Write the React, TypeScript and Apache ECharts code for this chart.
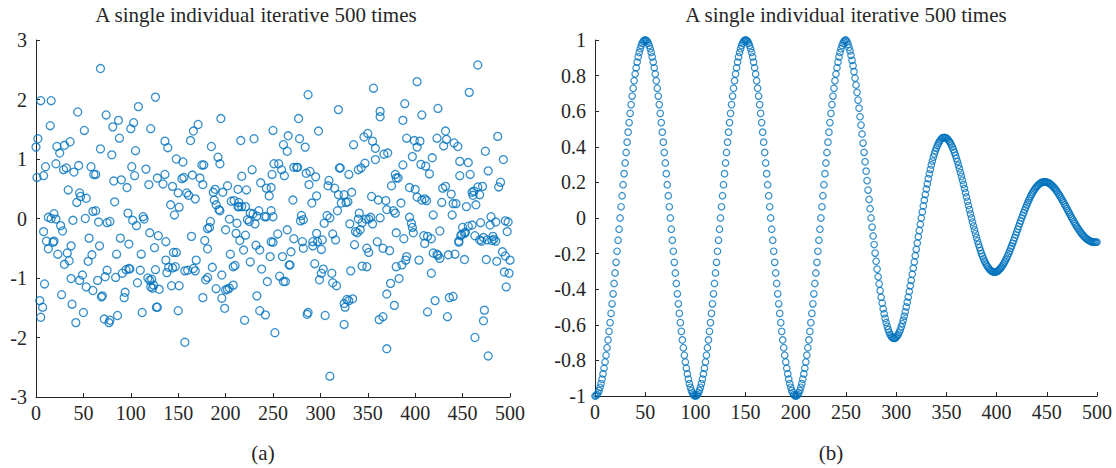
import React, { useEffect, useRef } from "react";
import * as echarts from "echarts";

const titleText = "A single individual iterative 500 times";
const xTicks = [0, 50, 100, 150, 200, 250, 300, 350, 400, 450, 500];

// Panel (a): iteration index and value
const scatterA: [number, number][] = [
  [0,1.20],[2,1.34],[1,0.69],[5,1.98],[8,0.72],[4,-1.38],[7,-1.49],[5,-1.66],[9,-1.10],[10,0.87],[8,-0.22],[11,-0.38],[13,0.02],[13,-0.51],[15,1.56],[16,1.98],[16,0],[18,-0.40],[19,-0.38],[19,0.08],[21,-0.01],[22,1.21],[21,0.92],[25,1.10],[23,-0.60],[26,-0.12],[28,-0.21],[27,-1.28],[29,0.82],[30,1.23],[30,-0.77],[32,0.85],[33,-0.58],[35,-0.71],[36,1.29],[34,0.48],[37,-0.46],[38,-1.44],[37,-1.01],[39,-0.03],[40,0.78],[42,-1.75],[43,0.27],[44,1.79],[45,0.89],[46,0.43],[46,-1.04],[47,0.37],[49,-0.95],[50,-1.58],[51,1.48],[52,0],[53,0.34],[53,-1.15],[56,-0.33],[55,-0.72],[58,0.87],[59,-0.61],[60,-1.21],[61,0.74],[63,0.74],[60,0.12],[63,0.13],[65,-1.04],[66,-0.06],[67,-0.46],[68,2.52],[68,1.17],[69,-1.32],[70,-1.30],[72,-1.69],[73,-0.98],[74,1.74],[75,-0.87],[75,-0.07],[78,-0.05],[77,-1.75],[78,-1.71],[80,1.07],[81,1.54],[82,0.63],[83,0.28],[84,-0.99],[85,-0.60],[86,-1.63],[87,1.65],[88,1.35],[89,-0.33],[90,0.65],[91,-0.92],[93,-1.33],[94,-1.24],[96,0.52],[95,-0.86],[98,-0.84],[99,-0.85],[97,0.09],[98,-0.43],[100,1.51],[101,0.87],[103,1.61],[102,-0.03],[104,0.72],[105,1.14],[106,-0.12],[107,-1.08],[108,1.88],[110,-0.87],[111,-0.60],[113,0.03],[114,-0.01],[112,-1.58],[116,0.83],[119,0.57],[120,-0.24],[118,-1.00],[120,-1.04],[122,-1.02],[124,-1.12],[121,-1.15],[123,-1.17],[121,1.51],[125,-0.49],[126,2.04],[126,-0.86],[127,-1.49],
  [128,0.68],[136,0.74],[134,0.58],[136,1.30],[139,1.19],[129,-0.29],[137,-0.39],[137,-0.70],[138,-0.91],[140,-0.82],[144,-0.83],[147,-0.81],[128,-1.49],[130,-1.19],[144,0.54],[142,0.23],[146,0.06],[148,1.00],[155,0.95],[145,-0.57],[148,-0.57],[143,-1.13],[151,-1.13],[150,-1.55],[157,-2.08],[150,0.43],[151,0.19],[154,0.67],[156,0.69],[159,0.43],[161,0.39],[163,1.31],[166,1.47],[171,1.58],[165,0.73],[168,0.33],[164,-0.30],[157,-0.88],[160,-0.87],[166,-0.84],[169,-0.70],[168,-0.88],[173,0.68],[176,0.57],[175,0.90],[177,0.90],[176,-1.33],[178,-0.37],[181,-0.51],[179,-1.03],[181,-0.99],[181,-0.17],[183,-0.15],[184,-0.05],[185,1.21],[186,-0.82],[187,0.44],[189,0.49],[188,0.31],[190,0.23],[193,0.15],[194,0.13],[192,1.03],[194,0.92],[190,-1.18],[195,1.68],[196,-0.95],[196,-1.34],[199,-1.51],[197,0.44],[202,0.55],[200,-0.19],[204,-0.01],[206,0.29],[205,-0.60],[208,-0.81],[210,-0.79],[200,-1.20],[202,-1.19],[204,-1.17],[208,-1.12],[211,-0.25],[212,-0.08],[213,0.49],[214,0.27],[214,0.20],[215,-0.37],[216,1.31],[217,0.71],[222,0.48],[219,-0.53],[220,-1.71],[221,-0.28],[226,-0.73],[228,0.82],[230,1.34],[232,-0.45],[233,-1.30],[236,-0.53],[238,-0.85],[236,-1.55],[242,-1.62],[244,-1.06],[247,-0.64],[248,-0.39],[250,-0.40],[250,1.48],[251,0.92],[249,0.74],[250,0.03],[252,-1.92],
  [209,0.30],[213,0.20],[217,0.20],[221,0.20],[223,-0.02],[225,-0.05],[226,0.09],[229,0.08],[231,-0.09],[233,0.04],[235,0.13],[237,0.60],[241,0.03],[243,0.03],[246,0.38],[243,0.51],[248,0.52],[248,0.13],
  [256,0.92],[259,0.82],[262,0.72],[255,-0.26],[260,-0.64],[261,1.24],[266,1.39],[265,1.13],[257,-0.97],[261,-1.06],[263,-1.06],[265,-0.19],[267,-0.78],[268,-0.78],[269,-0.56],[271,0.31],[272,-0.34],[272,0.86],[275,0.86],[276,0.86],[277,1.68],[278,1.34],[284,1.20],[279,-0.04],[280,0.05],[282,-0.02],[281,-0.39],[282,-0.50],[285,0.76],[289,0.79],[288,0.57],[295,0.70],[287,2.08],[286,-1.61],[287,-1.58],[291,0.26],[296,0.38],[292,-0.39],[292,-0.46],[296,-0.25],[297,-0.39],[294,-0.76],[298,1.47],[299,-1.03],[301,-0.92],[303,-0.85],[301,-0.52],[302,-0.36],[304,-0.08],[305,-1.63],[307,0.05],[310,0.01],[308,0.55],[309,0.64],[315,0.51],[310,-2.65],[312,-0.92],[313,-1.08],[317,-1.13],[313,-0.26],[316,-0.36],[318,0.13],[319,1.83],[319,0.40],[322,0.26],[325,0.40],[327,0.27],[329,0.28],[333,0.44],[320,0.85],[321,0.85],[325,-1.43],[328,-1.36],[330,-1.38],[334,-1.35],[326,-1.49],[325,-1.78],[330,0.74],[331,-0.09],[332,-0.88],[335,1.24],[336,-0.44],[337,-0.22],[339,-0.24],[342,-0.19],[340,0.82],[343,0.85],[347,0.93],[341,0.09],[340,-0.01],[344,-0.07],[348,-0.01],[351,-0.01],[353,0.02],[355,-0.09],[363,0.01],[344,-0.80],[349,-0.81],[349,-0.50],[351,-0.57],[346,1.37],[350,1.43],[355,1.30],[358,1.18],[356,2.19],[354,0.37],[360,-0.39],[358,0.99],[361,0.31],[363,1.80],[363,1.71],[362,-1.70],[366,-1.65],[367,1.08],[371,1.10],[369,0.30],[370,0.15],[377,0.13],[366,-0.50],[373,-0.54],[370,-1.27],[374,-1.09],[370,-2.19],[375,0.55],[378,-1.46],[379,0.74],[380,0.68],[380,-0.24],[380,-0.81],
  [382,0.68],[379,0.09],[385,0.26],[383,-1.01],[387,0.90],[389,1.93],[387,1.65],[386,-0.78],[390,-0.70],[391,-0.64],[388,-0.34],[391,1.35],[394,0.52],[394,0.02],[396,-0.08],[397,-0.15],[398,-0.24],[397,1.04],[399,1.31],[402,1.20],[405,1.30],[400,0.49],[402,0.36],[407,0.31],[410,0.33],[412,0.30],[402,2.30],[404,-0.70],[406,0.91],[411,0.88],[415,0.75],[407,1.74],[409,-0.29],[410,-0.42],[413,-0.30],[417,-0.34],[413,-1.57],[417,-0.92],[418,1.02],[419,0.06],[421,-1.38],[419,-0.58],[423,-0.60],[426,-0.67],[424,-0.62],[423,1.35],[424,1.85],[426,-0.21],[428,0.27],[429,0.51],[432,0.54],[430,1.22],[432,1.47],[433,1.33],[434,-1.65],[435,-0.61],[442,-0.60],[436,-1.33],[440,-1.31],[438,0.41],[440,0.25],[443,0.25],[439,0.06],[441,1.27],[445,1.21],[446,-0.38],[448,-0.29],[447,0.96],[447,0.72],[452,-0.69],[450,-0.15],[453,-0.23],[454,0.20],[456,0.94],[458,0.74],[460,0.44],[461,0.39],[462,0.46],[464,0.23],[466,0.53],[468,0.40],[471,0.54],[457,2.12],[460,-0.11],[463,-0.29],[463,-2.00],[466,2.58],[469,-0.07],[468,-0.36],[470,-0.38],[473,-1.54],[472,-1.72],[474,1.13],[475,-0.69],[477,0.80],[477,-2.31],[480,0.03],[479,-0.11],[482,-0.30],[483,-0.35],[485,-0.38],[485,-0.06],[486,-0.72],[487,1.38],[488,0.53],[490,0.61],[492,-0.56],[495,-0.63],[499,-0.92],[494,-0.90],[493,0.99],[495,-0.04],[498,-0.06],[496,-1.15],[497,-0.22],[500,-0.70],
  [446,-0.40],[449,-0.27],[452,-0.25],[456,-0.13],[472,-0.32],[476,-0.36],[481,-0.37]
];

// Panel (b): value at each iteration, x = 0..500
const curveB_0_50 = [-1,-0.998,-0.992,-0.982,-0.969,-0.951,-0.930,-0.905,-0.876,-0.844,-0.809,-0.771,-0.729,-0.685,-0.637,-0.588,-0.536,-0.482,-0.426,-0.368,-0.309,-0.249,-0.187,-0.125,-0.063,0,0.063,0.125,0.187,0.249,0.309,0.368,0.426,0.482,0.536,0.588,0.637,0.685,0.729,0.771,0.809,0.844,0.876,0.905,0.930,0.951,0.969,0.982,0.992,0.998,1];
const curveB_51_100 = [0.998,0.992,0.982,0.969,0.951,0.930,0.905,0.876,0.844,0.809,0.771,0.729,0.685,0.637,0.588,0.536,0.482,0.426,0.368,0.309,0.249,0.187,0.125,0.063,0,-0.063,-0.125,-0.187,-0.249,-0.309,-0.368,-0.426,-0.482,-0.536,-0.588,-0.637,-0.685,-0.729,-0.771,-0.809,-0.844,-0.876,-0.905,-0.930,-0.951,-0.969,-0.982,-0.992,-0.998,-1];
const curveB_101_150 = [-0.998,-0.992,-0.982,-0.969,-0.951,-0.930,-0.905,-0.876,-0.844,-0.809,-0.771,-0.729,-0.685,-0.637,-0.588,-0.536,-0.482,-0.426,-0.368,-0.309,-0.249,-0.187,-0.125,-0.063,0,0.063,0.125,0.187,0.249,0.309,0.368,0.426,0.482,0.536,0.588,0.637,0.685,0.729,0.771,0.809,0.844,0.876,0.905,0.930,0.951,0.969,0.982,0.992,0.998,1];
const curveB_151_200 = [0.998,0.992,0.982,0.969,0.951,0.930,0.905,0.876,0.844,0.809,0.771,0.729,0.685,0.637,0.588,0.536,0.482,0.426,0.368,0.309,0.249,0.187,0.125,0.063,0,-0.063,-0.125,-0.187,-0.249,-0.309,-0.368,-0.426,-0.482,-0.536,-0.588,-0.637,-0.685,-0.729,-0.771,-0.809,-0.844,-0.876,-0.905,-0.930,-0.951,-0.969,-0.982,-0.992,-0.998,-1];
const curveB_201_250 = [-0.998,-0.992,-0.982,-0.969,-0.951,-0.930,-0.905,-0.876,-0.844,-0.809,-0.771,-0.729,-0.685,-0.637,-0.588,-0.536,-0.482,-0.426,-0.368,-0.309,-0.249,-0.187,-0.125,-0.063,0,0.063,0.125,0.187,0.249,0.309,0.368,0.426,0.482,0.536,0.588,0.637,0.685,0.729,0.771,0.809,0.844,0.876,0.905,0.930,0.951,0.969,0.982,0.992,0.998,1];
const curveB_251_300 = [0.990,0.976,0.958,0.939,0.914,0.886,0.856,0.822,0.786,0.747,0.706,0.662,0.617,0.569,0.522,0.472,0.421,0.369,0.316,0.263,0.210,0.157,0.104,0.052,0,-0.051,-0.101,-0.149,-0.197,-0.243,-0.287,-0.330,-0.370,-0.408,-0.445,-0.478,-0.510,-0.538,-0.564,-0.587,-0.608,-0.626,-0.642,-0.654,-0.664,-0.671,-0.675,-0.676,-0.675,-0.670];
const curveB_301_350 = [-0.663,-0.654,-0.642,-0.629,-0.612,-0.594,-0.574,-0.551,-0.527,-0.500,-0.473,-0.444,-0.413,-0.381,-0.350,-0.316,-0.282,-0.247,-0.212,-0.176,-0.141,-0.105,-0.070,-0.035,0,0.034,0.068,0.100,0.132,0.163,0.192,0.221,0.248,0.273,0.298,0.320,0.342,0.360,0.378,0.393,0.407,0.419,0.430,0.438,0.445,0.450,0.452,0.453,0.452,0.449];
const curveB_351_400 = [0.445,0.438,0.430,0.422,0.410,0.398,0.384,0.369,0.353,0.335,0.317,0.297,0.277,0.255,0.234,0.212,0.189,0.166,0.142,0.118,0.094,0.070,0.047,0.023,0,-0.023,-0.045,-0.067,-0.088,-0.109,-0.129,-0.148,-0.166,-0.183,-0.200,-0.215,-0.229,-0.242,-0.253,-0.264,-0.273,-0.281,-0.288,-0.294,-0.298,-0.301,-0.303,-0.304,-0.303,-0.301];
const curveB_401_450 = [-0.298,-0.294,-0.288,-0.282,-0.275,-0.267,-0.257,-0.247,-0.236,-0.225,-0.212,-0.199,-0.186,-0.171,-0.157,-0.142,-0.127,-0.111,-0.095,-0.079,-0.063,-0.047,-0.031,-0.016,0,0.015,0.030,0.045,0.059,0.073,0.086,0.099,0.111,0.123,0.134,0.144,0.153,0.162,0.170,0.177,0.183,0.188,0.193,0.197,0.200,0.202,0.203,0.203,0.203,0.202];
const curveB_451_500 = [0.199,0.197,0.193,0.189,0.184,0.179,0.172,0.166,0.158,0.151,0.142,0.133,0.124,0.115,0.105,0.095,0.085,0.074,0.064,0.053,0.042,0.032,0.021,0.010,0,-0.010,-0.020,-0.030,-0.040,-0.049,-0.058,-0.066,-0.075,-0.082,-0.090,-0.096,-0.103,-0.108,-0.114,-0.118,-0.123,-0.126,-0.129,-0.132,-0.134,-0.135,-0.136,-0.136,-0.136,-0.135];

const curveB = [
  ...curveB_0_50, ...curveB_51_100, ...curveB_101_150, ...curveB_151_200, ...curveB_201_250,
  ...curveB_251_300, ...curveB_301_350, ...curveB_351_400, ...curveB_401_450, ...curveB_451_500,
];

const BLUE = "#0072BD";
const INK = "#262626";
const FONT = "Liberation Serif";

export default function App() {
  const ref = useRef<HTMLDivElement>(null);

  useEffect(() => {
    if (!ref.current) return;
    const chart = echarts.init(ref.current, undefined, { renderer: "svg" });

    const axisCommon = {
      type: "value" as const,
      axisLine: { show: true, onZero: false, lineStyle: { color: INK, width: 1 } },
      axisTick: { show: true, inside: true, length: 4, lineStyle: { color: INK, width: 1 } },
      axisLabel: { color: INK, fontSize: 20, fontFamily: FONT },
      splitLine: { show: false },
    };

    const textStyle = { fill: INK, fontSize: 21, fontFamily: FONT, align: "center", verticalAlign: "middle" };

    chart.setOption({
      animation: false,
      backgroundColor: "#ffffff",
      grid: [
        { left: 36, width: 474, top: 40, height: 357 },
        { left: 595, width: 502, top: 40, height: 356 },
      ],
      xAxis: [
        { ...axisCommon, gridIndex: 0, min: xTicks[0], max: xTicks[xTicks.length - 1], interval: 50,
          axisLabel: { ...axisCommon.axisLabel, margin: 6 } },
        { ...axisCommon, gridIndex: 1, min: xTicks[0], max: xTicks[xTicks.length - 1], interval: 50,
          axisLabel: { ...axisCommon.axisLabel, margin: 6 } },
      ],
      yAxis: [
        { ...axisCommon, gridIndex: 0, min: -3, max: 3, interval: 1,
          axisLabel: { ...axisCommon.axisLabel, margin: 9 } },
        { ...axisCommon, gridIndex: 1, min: -1, max: 1, interval: 0.2,
          axisLabel: { ...axisCommon.axisLabel, margin: 9 } },
      ],
      graphic: [
        { type: "text", x: 256, y: 15, style: { ...textStyle, text: titleText } },
        { type: "text", x: 846, y: 15, style: { ...textStyle, text: titleText } },
        { type: "text", x: 263, y: 453, style: { ...textStyle, text: "(a)" } },
        { type: "text", x: 831, y: 453, style: { ...textStyle, text: "(b)" } },
      ],
      series: [
        {
          type: "scatter", xAxisIndex: 0, yAxisIndex: 0,
          data: scatterA,
          symbol: "circle", symbolSize: 8,
          itemStyle: { color: "rgba(0,0,0,0)", borderColor: BLUE, borderWidth: 1.3 },
        },
        {
          type: "scatter", xAxisIndex: 1, yAxisIndex: 1,
          data: curveB.map((v, i) => [i, v]),
          symbol: "circle", symbolSize: 6.5,
          itemStyle: { color: "rgba(0,0,0,0)", borderColor: BLUE, borderWidth: 1.2 },
        },
      ],
    });

    return () => chart.dispose();
  }, []);

  return (
    <div
      ref={ref}
      style={{ position: "fixed", left: 0, top: 0, width: 1116, height: 468, background: "#fff" }}
    />
  );
}
